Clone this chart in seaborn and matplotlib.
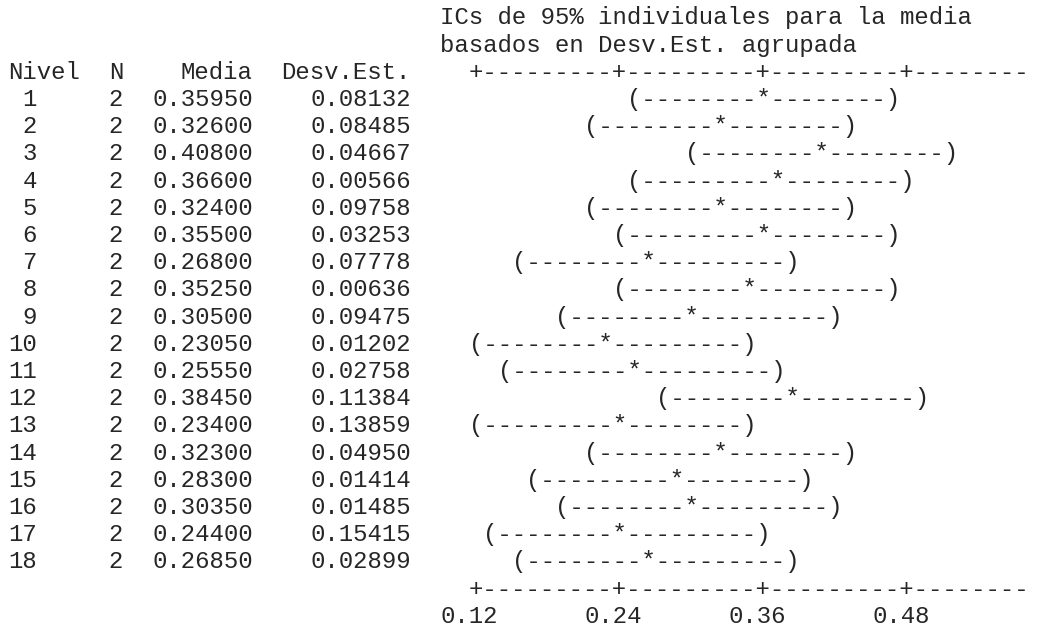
import math
import matplotlib
matplotlib.use("Agg")
import matplotlib.pyplot as plt
import seaborn as sns

# One-way ANOVA summary: one row per factor level
levels = list(range(1, 19))
n_obs = [2] * 18
means = [0.35950, 0.32600, 0.40800, 0.36600, 0.32400, 0.35500, 0.26800, 0.35250,
         0.30500, 0.23050, 0.25550, 0.38450, 0.23400, 0.32300, 0.28300, 0.30350,
         0.24400, 0.26850]
sds = [0.08132, 0.08485, 0.04667, 0.00566, 0.09758, 0.03253, 0.07778, 0.00636,
       0.09475, 0.01202, 0.02758, 0.11384, 0.13859, 0.04950, 0.01414, 0.01485,
       0.15415, 0.02899]
axis_ticks = [0.12, 0.24, 0.36, 0.48]
tick_labels = ["0.12", "0.24", "0.36", "0.48"]
header = ["Nivel", "N", "Media", "Desv.Est."]
title_lines = ["ICs de 95% individuales para la media",
               "basados en Desv.Est. agrupada"]
t_crit = 2.10092  # t quantile 0.975 with 18 error df

sns.set_theme(style="white")
plt.rcParams["font.family"] = ["Liberation Mono", "DejaVu Sans Mono"]

# Character-cell geometry of the monospaced listing
DPI = 100
W_PX, H_PX = 1039, 628
CHAR_W = 14.4          # px per column
LINE_H = 27.2          # px per line
X0, Y0 = 8.0, 4.0      # left / top margin in px
FONT_PT = CHAR_W / 0.6 * 72 / DPI
INK = "#262626"

# Interval scale: one column per 0.012, first tick in column 32
STEP = (axis_ticks[1] - axis_ticks[0]) / 10
AXIS_COL = 32


def col_of(v):
    return AXIS_COL + (v - axis_ticks[0]) / STEP


def val_of(col):
    return axis_ticks[0] + (col - AXIS_COL) * STEP


def snap(c):
    return int(math.floor(c + 0.5 + 1e-9))


fig = plt.figure(figsize=(W_PX / DPI, H_PX / DPI), dpi=DPI)
ax = fig.add_axes([0, 0, 1, 1])
# x in data units of the interval scale, y in listing lines
ax.set_xlim(val_of((0 - X0) / CHAR_W - 0.5), val_of((W_PX - X0) / CHAR_W - 0.5))
line_top = (0 - Y0) / LINE_H - 0.5
line_bot = (H_PX - Y0) / LINE_H - 0.5
ax.set_ylim(line_bot, line_top)
ax.axis("off")

BASE = 0.25  # baseline offset below the line centre, in lines


def put(col, line, s):
    ax.text(val_of(col - 0.5), line + BASE, s, ha="left", va="baseline",
            fontsize=FONT_PT, color=INK)


# Titles above the interval panel
for i, s in enumerate(title_lines):
    put(30, i, s)

# Column headings
put(0, 2, header[0])
put(7, 2, header[1])
put(17 - len(header[2]), 2, header[2])
put(28 - len(header[3]), 2, header[3])

# Text axis of the interval panel (kept inside the canvas)
last_col = int((W_PX - X0) / CHAR_W) - 1
first_col = snap(col_of(axis_ticks[0]))
tick_cols = {snap(col_of(t)) for t in axis_ticks}
axis_str = "".join("+" if c in tick_cols else "-" for c in range(first_col, last_col + 1))

put(first_col, 2, axis_str)

# Pooled standard deviation and 95% half width
dfs = [n - 1 for n in n_obs]
pooled = math.sqrt(sum(d * s * s for d, s in zip(dfs, sds)) / sum(dfs))

for i, (lev, n, m, s) in enumerate(zip(levels, n_obs, means, sds)):
    line = 3 + i
    put(2 - len(str(lev)), line, str(lev))
    put(7, line, str(n))
    put(10, line, f"{m:.5f}")
    put(21, line, f"{s:.5f}")
    half = t_crit * pooled / math.sqrt(n)
    lo, mid, hi = snap(col_of(m - half)), snap(col_of(m)), snap(col_of(m + half))
    ci = "(" + "-" * (mid - lo - 1) + "*" + "-" * (hi - mid - 1) + ")"
    put(lo, line, ci)

axis_line = 3 + len(levels)
put(first_col, axis_line, axis_str)
for t, lab in zip(axis_ticks, tick_labels):
    c = snap(col_of(t))
    put(c - 2, axis_line + 1, lab)

fig.savefig("out.png", dpi=DPI, facecolor="white")
